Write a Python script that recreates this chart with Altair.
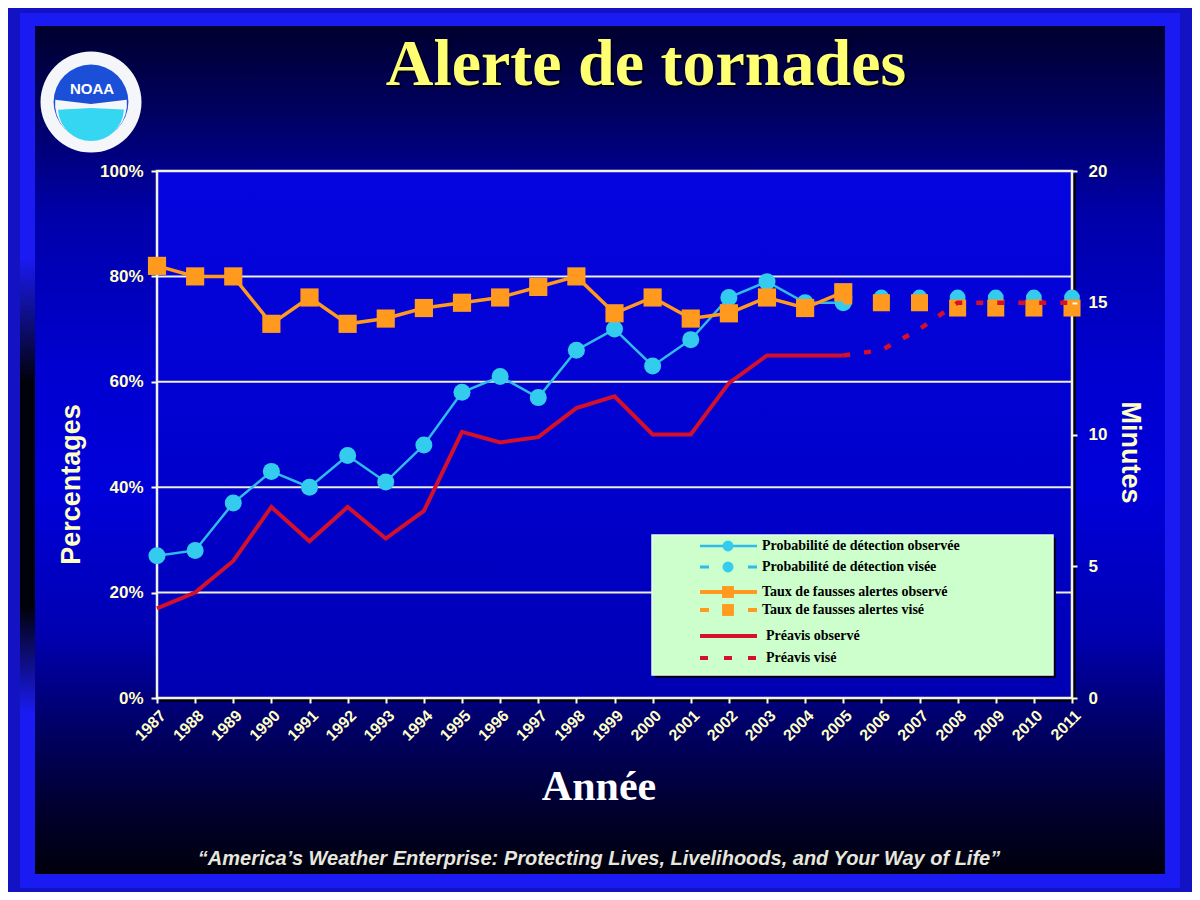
import altair as alt
import pandas as pd

# ---------------- data ----------------
years_obs = [1987, 1988, 1989, 1990, 1991, 1992, 1993, 1994, 1995, 1996,
             1997, 1998, 1999, 2000, 2001, 2002, 2003, 2004, 2005]
pod_obs = [27, 28, 37, 43, 40, 46, 41, 48, 58, 61, 57, 66, 70, 63, 68, 76, 79, 75, 75]
far_obs = [82, 80, 80, 71, 76, 71, 72, 74, 75, 76, 78, 80, 73, 76, 72, 73, 76, 74, 77]
lead_obs = [3.4, 4.0, 5.2, 7.25, 5.95, 7.25, 6.05, 7.1, 10.1, 9.7, 9.9, 11.0, 11.45,
            10.0, 10.0, 11.95, 13.0, 13.0, 13.0]

years_tgt = [2005, 2006, 2007, 2008, 2009, 2010, 2011]
pod_tgt = [76, 76, 76, 76, 76, 76, 76]
far_tgt = [75, 75, 75, 74, 74, 74, 74]
lead_tgt = [13.0, 13.2, 14.0, 15.0, 15.0, 15.0, 15.0]

year_ticks = list(range(1987, 2012))
pct_ticks = [0, 20, 40, 60, 80, 100]
min_ticks = [0, 5, 10, 15, 20]
grid_pct = [20, 40, 60, 80]

legend_labels = [
    "Probabilité de détection observée",
    "Probabilité de détection visée",
    "Taux de fausses alertes observé",
    "Taux de fausses alertes visé",
    "Préavis observé",
    "Préavis visé",
]

title_text = "Alerte de tornades"
xlabel_text = "Année"
footer_text = "\u201cAmerica\u2019s Weather Enterprise: Protecting Lives, Livelihoods, and Your Way of Life\u201d"

# ---------------- styles ----------------
W, H = 915, 527
CYAN = "#33CCEE"
CYAN_LINE = "#30BCEA"
ORANGE = "#FF9A1E"
RED = "#D4102A"
AXIS_TXT = "#FFFFC4"
SANS = "Liberation Sans"
SERIF = "Liberation Serif"

obs = pd.DataFrame({"year": years_obs, "pod": pod_obs, "far": far_obs, "lead": lead_obs})
tgt = pd.DataFrame({"year": years_tgt, "pod": pod_tgt, "far": far_tgt, "lead": lead_tgt})
grid_df = pd.DataFrame({"v": grid_pct})
one = pd.DataFrame({"k": [0]})


def grad(stops):
    return alt.LinearGradient(
        gradient="linear", x1=0, y1=0, x2=0, y2=1,
        stops=[alt.GradientStop(offset=o, color=c) for o, c in stops],
    )


def vrect(x1, y1, x2, y2, **kw):
    return alt.Chart(one).mark_rect(**kw).encode(
        x=alt.value(x1), x2=alt.value(x2), y=alt.value(y1), y2=alt.value(y2))


def vtext(txt, x, y, **kw):
    return alt.Chart(one).mark_text(text=txt, **kw).encode(x=alt.value(x), y=alt.value(y))


def vpoint(x, y, **kw):
    return alt.Chart(one).mark_point(**kw).encode(x=alt.value(x), y=alt.value(y))


def vrule(x1, x2, y, **kw):
    return alt.Chart(one).mark_rule(**kw).encode(x=alt.value(x1), x2=alt.value(x2), y=alt.value(y))


x_scale = alt.Scale(domain=[1987, 2011], nice=False, zero=False)
x_axis = alt.Axis(values=year_ticks, format="d", labelAngle=315, labelFont=SANS,
                  labelFontSize=16, labelFontWeight="bold", labelColor=AXIS_TXT,
                  tickColor="#FFFFE0", tickSize=5, tickWidth=2, labelPadding=4,
                  domain=False, grid=False, title=None, zindex=1,
                  labelOverlap=False, labelFlush=False, labelBound=False)
xenc = alt.X("year:Q", scale=x_scale, axis=x_axis)

pct_scale = alt.Scale(domain=[0, 100], nice=False, zero=True)
y_left = alt.Axis(orient="left", values=pct_ticks, labelExpr="datum.value + '%'",
                  title="Percentages", titleFont=SANS, titleFontSize=27, titleFontWeight="bold",
                  titleColor=AXIS_TXT, titleX=-78, titleY=313, titleAngle=270,
                  titleBaseline="alphabetic", titleAlign="center",
                  labelFont=SANS, labelFontSize=17, labelFontWeight="bold", labelColor=AXIS_TXT,
                  tickColor="#FFFFE0", tickSize=6, tickWidth=2, labelPadding=8,
                  domain=False, grid=False, zindex=1)
min_scale = alt.Scale(domain=[0, 20], nice=False, zero=True)
y_right = alt.Axis(orient="right", values=min_ticks, format="d",
                   title="Minutes", titleFont=SANS, titleFontSize=27, titleFontWeight="bold",
                   titleColor=AXIS_TXT, titleX=49, titleY=281, titleAngle=90,
                   titleBaseline="alphabetic", titleAlign="center",
                   labelFont=SANS, labelFontSize=17, labelFontWeight="bold", labelColor=AXIS_TXT,
                   tickColor="#FFFFE0", tickSize=5, tickWidth=2, labelPadding=11,
                   domain=False, grid=False, zindex=1)

# ---------------- slide background ----------------
band = vrect(-137, -158, 1023, 717, fill="#1A1AF2")
left_shadow = vrect(-137, -158, -122, 717, fill=grad([
    (0, "rgba(0,0,0,0)"), (0.28, "rgba(0,0,0,0)"), (0.42, "rgba(0,0,0,0.95)"),
    (0.68, "rgba(0,0,0,0.95)"), (0.8, "rgba(0,0,0,0)"), (1, "rgba(0,0,0,0)")]))
panel = vrect(-122, -145, 1008, 703, fill=grad([
    (0, "#00002E"), (0.1, "#000060"), (0.22, "#0000A8"), (0.4, "#0000D0"),
    (0.55, "#0000DA"), (0.72, "#0000B0"), (0.82, "#00006A"), (0.92, "#000030"),
    (1, "#00000C")]))

# NOAA logo (approximation)
LX, LY = -66, -69
logo = [
    vpoint(LX, LY, shape="circle", filled=True, size=10200, color="#F4F6FA", opacity=1),
    vpoint(LX, LY, shape="circle", filled=True, size=5600, color="#1C4FD8", opacity=1),
    alt.Chart(one).mark_arc(theta=1.45, theta2=4.83, radius=36, color="#F4F6FA")
       .encode(x=alt.value(LX), y=alt.value(LY + 2)),
    alt.Chart(one).mark_arc(theta=1.62, theta2=4.66, radius=33, color="#34D6F2")
       .encode(x=alt.value(LX), y=alt.value(LY + 6)),
    vtext("NOAA", LX + 1, LY - 13, font=SANS, fontSize=15, fontWeight="bold",
          color="white", align="center", baseline="middle"),
]

# titles
titles = [
    vtext(title_text, 491, -84, font=SERIF, fontSize=66, fontWeight="bold",
          color="#000018", align="center", baseline="alphabetic"),
    vtext(title_text, 489, -86, font=SERIF, fontSize=66, fontWeight="bold",
          color="#FFFF72", align="center", baseline="alphabetic"),
    vtext(xlabel_text, 442, 629, font=SERIF, fontSize=42, fontWeight="bold",
          color="white", align="center", baseline="alphabetic"),
    vtext(footer_text, 442, 694, font=SANS, fontSize=20, fontWeight="bold",
          fontStyle="italic", color="#E6E6DC", align="center", baseline="alphabetic"),
]

# plot area
plot_shadow = vrect(3, 3, W + 4, H + 4, fill="#000018")
plot_bg = vrect(0, 0, W, H, fill=grad([(0, "#0505E0"), (0.6, "#0000CC"), (1, "#0000B2")]),
                stroke="#F2F2E4", strokeWidth=2.5)

# ---------------- data layers ----------------
grid = alt.Chart(grid_df).mark_rule(color="#EEEEDD", strokeWidth=2).encode(
    y=alt.Y("v:Q", scale=pct_scale, axis=y_left), x=alt.value(0), x2=alt.value(W))

cyan_line = alt.Chart(obs).mark_line(color=CYAN_LINE, strokeWidth=2.5).encode(
    x=xenc, y=alt.Y("pod:Q", scale=pct_scale, axis=y_left))
cyan_tline = alt.Chart(tgt).mark_line(color=CYAN_LINE, strokeWidth=3, strokeDash=[9, 28]).encode(
    x=xenc, y=alt.Y("pod:Q", scale=pct_scale, axis=y_left))
cyan_pts = alt.Chart(obs).mark_point(shape="circle", filled=True, size=290, color=CYAN, opacity=1).encode(
    x=xenc, y=alt.Y("pod:Q", scale=pct_scale, axis=y_left))
cyan_tpts = alt.Chart(tgt).mark_point(shape="circle", filled=True, size=250, color=CYAN, opacity=1).encode(
    x=xenc, y=alt.Y("pod:Q", scale=pct_scale, axis=y_left)).transform_filter(alt.datum.year >= 2006)

orange_line = alt.Chart(obs).mark_line(color=ORANGE, strokeWidth=3.5).encode(
    x=xenc, y=alt.Y("far:Q", scale=pct_scale, axis=y_left))
orange_tline = alt.Chart(tgt).mark_line(color=ORANGE, strokeWidth=3.5, strokeDash=[9, 28]).encode(
    x=xenc, y=alt.Y("far:Q", scale=pct_scale, axis=y_left))
orange_pts = alt.Chart(obs).mark_point(shape="square", filled=True, size=330, color=ORANGE, opacity=1).encode(
    x=xenc, y=alt.Y("far:Q", scale=pct_scale, axis=y_left))
orange_tpts = alt.Chart(tgt).mark_point(shape="square", filled=True, size=290, color=ORANGE, opacity=1).encode(
    x=xenc, y=alt.Y("far:Q", scale=pct_scale, axis=y_left)).transform_filter(alt.datum.year >= 2006)

red_line = alt.Chart(obs).mark_line(color=RED, strokeWidth=4).encode(
    x=xenc, y=alt.Y("lead:Q", scale=min_scale, axis=y_right))
red_tline = alt.Chart(tgt).mark_line(color=RED, strokeWidth=4.5, strokeDash=[7, 14]).encode(
    x=xenc, y=alt.Y("lead:Q", scale=min_scale, axis=y_right))

pct_layer = alt.layer(grid, cyan_line, cyan_tline, cyan_pts, cyan_tpts,
                      orange_line, orange_tline, orange_pts, orange_tpts)
min_layer = alt.layer(red_line, red_tline)

# ---------------- legend ----------------
LGX1, LGY1, LGX2, LGY2 = 495, 364, 896, 504
row_y = [375, 396, 421, 439, 465, 487]
sx1, sx2, smid = 543, 600, 571
legend = [
    vrect(LGX1 + 3, LGY1 + 3, LGX2 + 3, LGY2 + 3, fill="#000020"),
    vrect(LGX1, LGY1, LGX2, LGY2, fill="#CCFFCC", stroke="#E6FAE6", strokeWidth=1.5),
    vrule(sx1, sx2, row_y[0], color=CYAN_LINE, strokeWidth=2.5),
    vpoint(smid, row_y[0], shape="circle", filled=True, size=120, color=CYAN, opacity=1),
    vrule(sx1, sx2, row_y[1], color=CYAN_LINE, strokeWidth=3, strokeDash=[9, 39]),
    vpoint(smid, row_y[1], shape="circle", filled=True, size=120, color=CYAN, opacity=1),
    vrule(sx1, sx2, row_y[2], color=ORANGE, strokeWidth=4),
    vpoint(smid, row_y[2], shape="square", filled=True, size=140, color=ORANGE, opacity=1),
    vrule(sx1, sx2, row_y[3], color=ORANGE, strokeWidth=4, strokeDash=[9, 39]),
    vpoint(smid, row_y[3], shape="square", filled=True, size=140, color=ORANGE, opacity=1),
    vrule(sx1, sx2, row_y[4], color=RED, strokeWidth=4),
    vrule(sx1, sx2, row_y[5], color=RED, strokeWidth=4, strokeDash=[8, 16]),
]
for i, lab in enumerate(legend_labels):
    lx = 605 if i < 4 else 609
    legend.append(vtext(lab, lx, row_y[i], font=SERIF, fontSize=14, fontWeight="bold",
                        color="black", align="left", baseline="middle"))

chart = alt.layer(
    band, left_shadow, panel, *logo, *titles, plot_shadow, plot_bg,
    pct_layer, min_layer, *legend,
).resolve_scale(y="independent").properties(
    width=W, height=H,
    background="#1313C4",
    padding={"left": 149, "top": 163, "right": 120, "bottom": 194},
    autosize=alt.AutoSizeParams(type="none"),
).configure_view(stroke=None)

chart.save("out.html", embed_options={"renderer": "svg", "actions": False})
